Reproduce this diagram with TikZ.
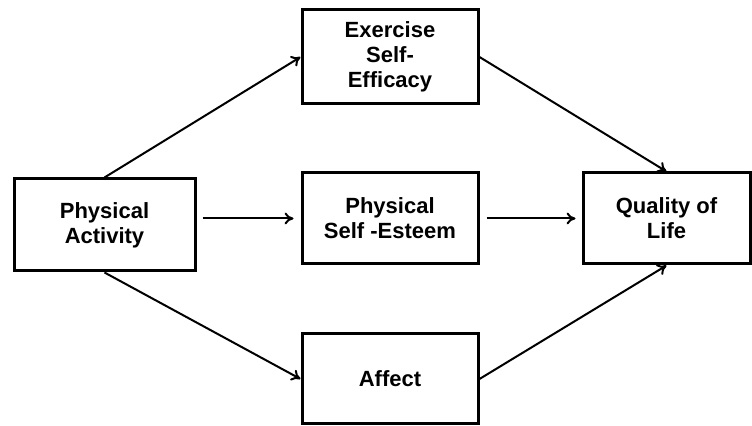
\documentclass[tikz,border=0pt]{standalone}
\usepackage{fontspec}
\setmainfont{Liberation Sans}
\usetikzlibrary{arrows.meta}

\begin{document}
\begin{tikzpicture}[x=0.5pt,y=-0.5pt,
    boite/.style={draw,line width=1.5pt,inner sep=0pt,align=center,
        font=\bfseries\fontsize{11}{12.5}\selectfont},
    fleche/.style={line width=1pt,-{To[length=4.5pt,width=6pt]}}]
\useasboundingbox[fill=white] (0,0) rectangle (752,426);

% Boites
\node[boite,minimum width=90.5pt,minimum height=46pt] (activite) at (104.5,225) {Physical\\Activity};
\node[boite,minimum width=88pt,minimum height=47pt] (efficacite) at (390,57) {Exercise\\Self-\\Efficacy};
\node[boite,minimum width=88pt,minimum height=45.5pt] (estime) at (390,218.5) {Physical\\Self -Esteem};
\node[boite,minimum width=88pt,minimum height=45pt] (affect) at (390,379) {Affect};
\node[boite,minimum width=83.5pt,minimum height=45.5pt] (qualite) at (666.5,218.5) {Quality of\\Life};

% Fleches
\draw[fleche] (activite.north) -- (efficacite.west);
\draw[fleche] (activite.south) -- (affect.west);
\draw[fleche,shorten <=3pt,shorten >=3.5pt] (activite.east |- estime) -- (estime.west);
\draw[fleche,shorten <=3.5pt,shorten >=3pt] (estime.east) -- (qualite.west);
\draw[fleche] (efficacite.east) -- (qualite.north);
\draw[fleche] (affect.east) -- (qualite.south);
\end{tikzpicture}
\end{document}
